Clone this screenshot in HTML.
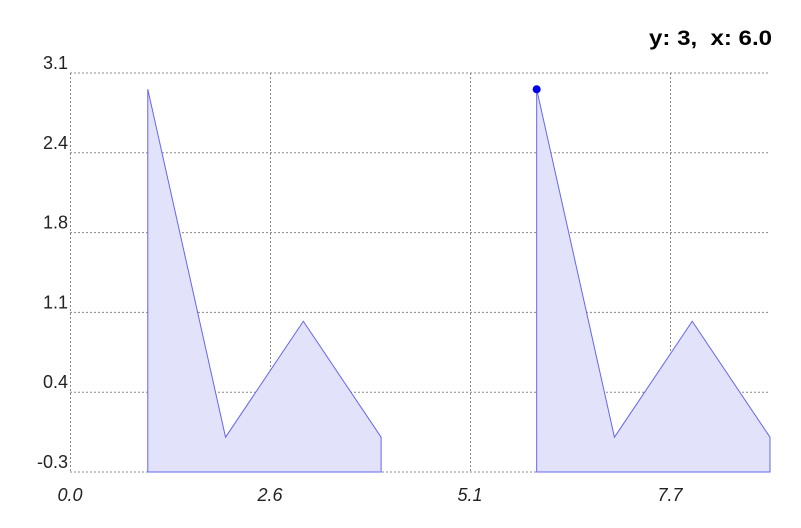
<!DOCTYPE html>
<html><head><meta charset="utf-8"><style>
body{margin:0;background:#fff;}
svg{display:block;font-family:"Liberation Sans",Arial,sans-serif;}
</style></head><body>
<svg id="chart" width="801" height="528">
<text x="772" y="45" text-anchor="end" font-size="21" font-weight="bold" textLength="123" lengthAdjust="spacingAndGlyphs" style="white-space:pre">y: 3,  x: 6.0</text>
<g id="grid"></g><g id="series"></g><g id="labels"></g>
</svg>
<script>
const seriesAx=[1,2,3,4];
const seriesAy=[3,0,1,0];
const seriesBx=[6,7,8,9];
const seriesBy=[3,0,1,0];
const xTicks=[0,2.571,5.143,7.714];
const xTickLabels=["0.0","2.6","5.1","7.7"];
const yTicks=[-0.3,0.388,1.076,1.764,2.452,3.14];
const yTickLabels=["-0.3","0.4","1.1","1.8","2.4","3.1"];
const xMin=0,xMax=9,yMin=-0.3,yMax=3.14;
const L=70,R=770,T=73,B=472;
const sx=v=>L+(v-xMin)/(xMax-xMin)*(R-L);
const sy=v=>B-(v-yMin)/(yMax-yMin)*(B-T);
const NS="http://www.w3.org/2000/svg";
const g=document.getElementById('grid'),s=document.getElementById('series'),lb=document.getElementById('labels');
function mk(tag,attrs,parent){const e=document.createElementNS(NS,tag);for(const k in attrs)e.setAttribute(k,attrs[k]);parent.appendChild(e);return e;}
yTicks.forEach((v,i)=>{
 const l=mk('line',{x1:L,x2:R,y1:sy(v),y2:sy(v),stroke:'#888','stroke-dasharray':'2,2','stroke-width':1},g);
 
 
 const t=mk('text',{x:L-2,y:sy(v)-4,'text-anchor':'end','font-size':18,fill:'#222'},lb);
 t.textContent=yTickLabels[i];
 
 
});
xTicks.forEach((v,i)=>{
 const l=mk('line',{x1:sx(v)+0.5,x2:sx(v)+0.5,y1:T,y2:B,stroke:'#888','stroke-dasharray':'2,2','stroke-width':1},g);
 
 
 const t=mk('text',{x:sx(v),y:B+29,'text-anchor':'middle','font-size':18,'font-style':'italic',fill:'#222'},lb);
 t.textContent=xTickLabels[i];
 
 
});
function area(xs,ys,name){
 let d='M'+sx(xs[0])+','+sy(yMin);
 xs.forEach((x,i)=>{d+=' L'+sx(x)+','+sy(ys[i]);});
 d+=' L'+sx(xs[xs.length-1])+','+sy(yMin)+' Z';
 const p=mk('path',{d:d,fill:'#e2e2fa',stroke:'#6666ee','stroke-width':1},s);
 
 
}
area(seriesAx,seriesAy,'area-series-1');
area(seriesBx,seriesBy,'area-series-2');
const c=mk('circle',{cx:sx(seriesBx[0]),cy:sy(seriesBy[0]),r:4,fill:'#0000ee'},s);


</script>
</body></html>
